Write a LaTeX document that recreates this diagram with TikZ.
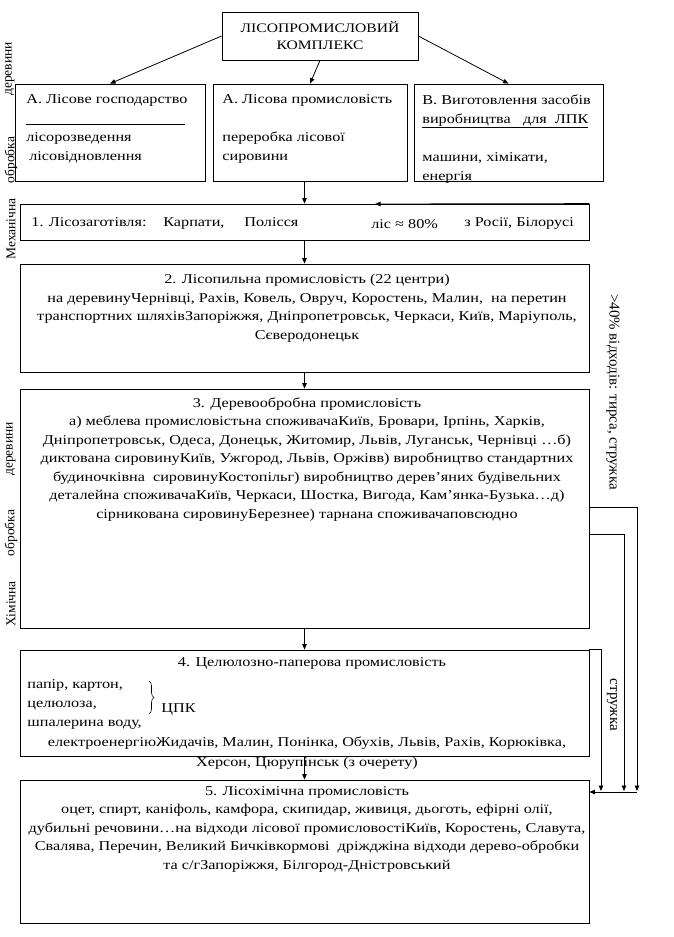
\documentclass[tikz,border=0pt]{standalone}
\usepackage{fontspec}
\setmainfont{Liberation Serif}[FakeStretch=1.2]
\newfontfamily\rotfont{Liberation Serif}
\usepackage{tikz}
\usetikzlibrary{arrows.meta, positioning, calc, decorations.pathreplacing}

\begin{document}
\begin{tikzpicture}[x=1pt, y=-1pt, line width=0.8pt,
    box/.style={draw, rectangle, inner sep=0pt},
    body/.style={inner sep=0pt, align=center, anchor=north, font=\fontsize{13.5}{18.5}\selectfont},
    lbody/.style={inner sep=0pt, align=left, anchor=north west, font=\fontsize{13.5}{19}\selectfont},
    word/.style={inner sep=0pt, anchor=base west, font=\fontsize{13.5}{15}\selectfont},
    side/.style={inner sep=0pt, font=\rotfont\fontsize{13.5}{15}\selectfont},
    arr/.style={-{Triangle[length=5.5pt, width=4.5pt]}}]
\useasboundingbox (0,0) rectangle (673,937);
% верхній блок
\node[box, minimum width=196pt, minimum height=48pt, align=center, font=\fontsize{13}{17}\selectfont] (cplx) at (320,36) {ЛІСОПРОМИСЛОВИЙ\\КОМПЛЕКС};
% три напрями
\node[box, minimum width=190pt, minimum height=97pt] (lpA) at (110,132.5) {};
\node[box, minimum width=194pt, minimum height=97pt] (lpB) at (310,132.5) {};
\node[box, minimum width=189pt, minimum height=97pt] (lpC) at (508.5,132.5) {};
\node[lbody] (tA) at (26,94) {А. Лісове господарство\\\rule[-2pt]{159pt}{0.6pt}\\лісорозведення\\\hspace{3pt}лісовідновлення};
\node[lbody] (tB) at (222,94) {А. Лісова промисловість\\[19pt]переробка лісової\\сировини};
\node[lbody] (tC) at (422,94) {В. Виготовлення засобів\\\underline{виробництва\ \ \ для\ \ ЛПК}\\[19pt]машини, хімікати,\\енергія};
% ланки
\node[box, minimum width=569pt, minimum height=36pt] (bx1) at (304.5,222) {};
\node[word] (zg) at (31,226) {1. Лісозаготівля:};
\node[word] (krp) at (163,226) {Карпати,};
\node[word] (pls) at (244,226) {Полісся};
\node[word] (lsp) at (371,228) {ліс ≈ 80\%};
\node[word] (rb) at (464,226) {з Росії, Білорусі};
\node[box, minimum width=569pt, minimum height=108pt] (bx2) at (304.5,318) {};
\node[body] (t2) at (307,274) {2. Лісопильна промисловість (22 центри)\\на деревинуЧернівці, Рахів, Ковель, Овруч, Коростень, Малин,\ \ на перетин\\транспортних шляхівЗапоріжжя, Дніпропетровськ, Черкаси, Київ, Маріуполь,\\Сєверодонецьк};
\node[box, minimum width=569pt, minimum height=239pt] (bx3) at (304.5,508.5) {};
\node[body] (t3) at (307,397) {3. Деревообробна промисловість\\а) меблева промисловістьна споживачаКиїв, Бровари, Ірпінь, Харків,\\Дніпропетровськ, Одеса, Донецьк, Житомир, Львів, Луганськ, Чернівці …б)\\диктована сировинуКиїв, Ужгород, Львів, Оржівв) виробництво стандартних\\будиночківна\ \ сировинуКостопільг) виробництво дерев’яних будівельних\\деталейна споживачаКиїв, Черкаси, Шостка, Вигода, Кам’янка-Бузька…д)\\сірникована сировинуБерезнее) тарнана споживачаповсюдно};
\node[box, minimum width=569pt, minimum height=106pt] (bx4) at (304.5,703) {};
\node[body] (t4) at (312,657) {4. Целюлозно-паперова промисловість};
\node[lbody] (t4a) at (27,679) {папір, картон,\\целюлоза,\\шпалерина воду,};
\draw[decorate, decoration={brace, amplitude=5pt}, line width=0.6pt] (149,681) -- (149,714);
\node[word] (cpk) at (161,712) {ЦПК};
\node[body, font=\fontsize{13.5}{20}\selectfont] (t4b) at (307,736) {електроенергіюЖидачів, Малин, Понінка, Обухів, Львів, Рахів, Корюківка,\\Херсон, Цюрупінськ (з очерету)};
\node[box, minimum width=569pt, minimum height=143pt] (bx5) at (304.5,851.5) {};
\node[body] (t5) at (307,786) {5. Лісохімічна промисловість\\оцет, спирт, каніфоль, камфора, скипидар, живиця, дьоготь, ефірні олії,\\дубильні речовини…на відходи лісової промисловостіКиїв, Коростень, Славута,\\Свалява, Перечин, Великий Бичківкормові\ \ дріжджіна відходи дерево-обробки\\та с/гЗапоріжжя, Білгород-Дністровський};
% бічні підписи
\node[side, rotate=90] (m1) at (11,229) {Механічна};
\node[side, rotate=90] (m2) at (11,160) {обробка};
\node[side, rotate=90] (m3) at (10,69) {деревини};
\node[side, rotate=90] (h1) at (11,604) {Хімічна};
\node[side, rotate=90] (h2) at (11,533) {обробка};
\node[side, rotate=90] (h3) at (11,449) {деревини};
\node[side, rotate=-90, font=\rotfont\fontsize{15}{15}\selectfont] (wst) at (613,392) {>40\% відходів: тирса, стружка};
\node[side, rotate=-90, font=\rotfont\fontsize{15}{15}\selectfont] (chp) at (612,705) {стружка};
% зв'язки
\draw[arr] (cplx.west) -- (lpA.north);
\draw[arr] (cplx.south) -- (lpB.north);
\draw[arr] (cplx.east) -- (lpC.north);
\draw[arr] (lpB.south -| bx1.north) -- (bx1.north);
\coordinate (lsIn) at (375,204);
\draw[arr] (bx1.north east) -- (lsIn);
\draw[arr] (bx1) -- (bx2);
\draw[arr] (bx2) -- (bx3);
\draw[arr] (bx3) -- (bx4);
\draw[arr] (bx4) -- (bx5);
\coordinate (d1) at (637,791);
\coordinate (d2) at (624,791);
\coordinate (d3) at (601,791);
\coordinate (jn) at (637,792);
\draw[arr] ([yshift=1.5pt]bx3.east) -| (d1);
\draw[arr] ([yshift=-25.5pt]bx3.east) -| (d2);
\draw[arr] (bx4.north east) -| (d3);
\draw[arr] (jn) -- (jn -| bx5.east);
\end{tikzpicture}
\end{document}
